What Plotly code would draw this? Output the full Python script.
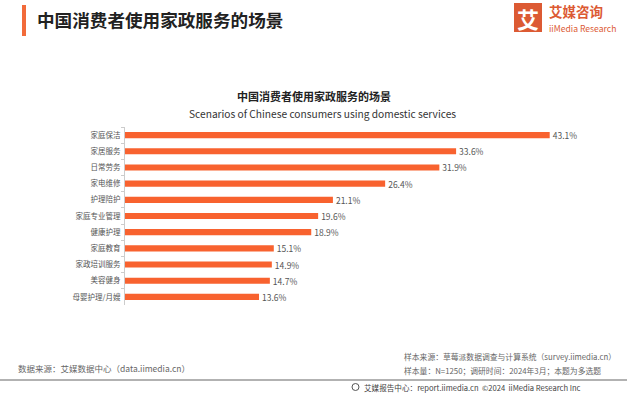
import plotly.graph_objects as go

categories = ["家庭保洁", "家居服务", "日常劳务", "家电维修", "护理陪护", "家庭专业管理",
              "健康护理", "家庭教育", "家政培训服务", "美容健身", "母婴护理/月嫂"]
values = [43.1, 33.6, 31.9, 26.4, 21.1, 19.6, 18.9, 15.1, 14.9, 14.7, 13.6]
value_labels = [f"{v}%" for v in values]

BAR = "#F8622F"
ORANGE = "#DC5A33"
FONT = "Noto Sans CJK SC, Noto Sans, sans-serif"

fig = go.Figure(go.Bar(
    x=values, y=categories, orientation="h",
    marker=dict(color=BAR, line=dict(width=0)),
    text=value_labels, textposition="outside", cliponaxis=False, constraintext="none",
    textfont=dict(size=8.5, color="#555", family=FONT),
    width=0.38, hoverinfo="skip",
))

fig.update_layout(
    width=627, height=393,
    margin=dict(l=125, r=29, t=127, b=88),
    paper_bgcolor="white", plot_bgcolor="white",
    showlegend=False,
    font=dict(family=FONT),
    xaxis=dict(range=[0, 48], visible=False, fixedrange=True),
    yaxis=dict(autorange="reversed", showline=True, linecolor="#ccc", linewidth=1,
               ticks="outside", ticklen=3, tickcolor="#ccc", tickson="boundaries",
               tickfont=dict(size=7.5, color="#555", family=FONT),
               showgrid=False, ticklabelstandoff=2, automargin=False, fixedrange=True),
)

def px(x):
    return (x - 125) / 473

def py(y):
    return (305 - y) / 178

# header
fig.add_shape(type="rect", xref="x domain", yref="y domain", layer="above",
              x0=px(22), x1=px(26), y0=py(5), y1=py(36),
              fillcolor="#F26B3A", line_width=0)
fig.add_annotation(text="<b>中国消费者使用家政服务的场景</b>", xref="paper", yref="paper",
                   x=px(35), y=py(19), xanchor="left", yanchor="middle",
                   showarrow=False, font=dict(size=17.6, color="#222", family=FONT))

# logo
fig.add_shape(type="rect", xref="x domain", yref="y domain", layer="above",
              x0=px(514), x1=px(542), y0=py(3), y1=py(32),
              fillcolor=ORANGE, line_width=0)
fig.add_annotation(text="<b>艾</b>", xref="paper", yref="paper",
                   x=px(528), y=py(17.5), xanchor="center", yanchor="middle",
                   showarrow=False, font=dict(size=22, color="white", family=FONT))
fig.add_annotation(text="<b>艾媒咨询</b>", xref="paper", yref="paper",
                   x=px(547), y=py(11), xanchor="left", yanchor="middle",
                   showarrow=False, font=dict(size=13.5, color=ORANGE, family=FONT))
fig.add_annotation(text="iiMedia Research", xref="paper", yref="paper",
                   x=px(547), y=py(28), xanchor="left", yanchor="middle",
                   showarrow=False, font=dict(size=8.6, color=ORANGE, family=FONT))

# chart titles
fig.add_annotation(text="<b>中国消费者使用家政服务的场景</b>", xref="paper", yref="paper",
                   x=px(314), y=py(96), xanchor="center", yanchor="middle",
                   showarrow=False, font=dict(size=11, color="#222", family=FONT))
fig.add_annotation(text="Scenarios of Chinese consumers using domestic services", xref="paper", yref="paper",
                   x=px(322), y=py(113), xanchor="center", yanchor="middle",
                   showarrow=False, font=dict(size=10.2, color="#333", family=FONT))

# footer
fig.add_annotation(text="数据来源：艾媒数据中心（data.iimedia.cn）", xref="paper", yref="paper",
                   x=px(16), y=py(368), xanchor="left", yanchor="middle",
                   showarrow=False, font=dict(size=8.5, color="#666", family=FONT))
fig.add_annotation(text="样本来源：草莓派数据调查与计算系统（survey.iimedia.cn）", xref="paper", yref="paper",
                   x=px(402), y=py(356), xanchor="left", yanchor="middle",
                   showarrow=False, font=dict(size=7.8, color="#666", family=FONT))
fig.add_annotation(text="样本量：N=1250；调研时间：2024年3月；本题为多选题", xref="paper", yref="paper",
                   x=px(402), y=py(370), xanchor="left", yanchor="middle",
                   showarrow=False, font=dict(size=7.8, color="#666", family=FONT))
fig.add_shape(type="line", xref="x domain", yref="y domain", layer="above",
              x0=px(0), x1=px(627), y0=py(380), y1=py(380),
              line=dict(color="#999", width=1.5))
fig.add_shape(type="circle", xref="x domain", yref="y domain", layer="above",
              x0=px(352), x1=px(359), y0=py(383.5), y1=py(390.5),
              line=dict(color="#555", width=1))
fig.add_annotation(text="艾媒报告中心：report.iimedia.cn  ©2024  iiMedia Research Inc", xref="paper", yref="paper",
                   x=px(362), y=py(387), xanchor="left", yanchor="middle",
                   showarrow=False, font=dict(size=7.6, color="#444", family=FONT))

fig.write_html("out.html", config={"displayModeBar": False},
               post_script="document.body.style.margin='0';document.body.style.padding='0';")
